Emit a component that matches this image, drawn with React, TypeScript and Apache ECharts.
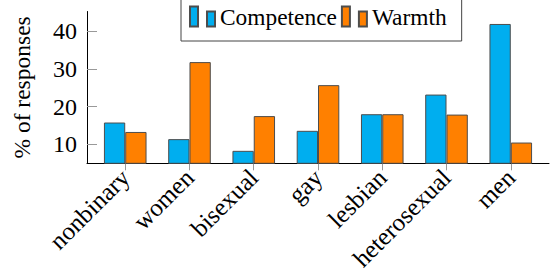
import React, { useEffect, useRef } from "react";
import * as echarts from "echarts";

const categories = ["nonbinary", "women", "bisexual", "gay", "lesbian", "heterosexual", "men"];
const competence = [15.8, 11.4, 8.3, 13.6, 18.0, 23.2, 41.9];
const warmth = [13.3, 31.8, 17.5, 25.7, 18.0, 17.9, 10.5];
const yTicks = [10, 20, 30, 40];
const seriesNames = ["Competence", "Warmth"];
const yName = "% of responses";

export default function App() {
  const ref = useRef<HTMLDivElement>(null);
  useEffect(() => {
    const chart = echarts.init(ref.current!, null, { renderer: "svg" });
    const font = "Liberation Serif";
    const icon = "path://M0,0H8V20H0Z M17,5H25V20H17Z";
    const xTicks = categories.map((_, i) => i);
    chart.setOption({
      animation: false,
      textStyle: { fontFamily: font, color: "#000" },
      legend: {
        left: 181,
        top: -10,
        padding: [15, 15, 13, 8],
        itemWidth: 25,
        itemHeight: 20,
        itemGap: 4,
        icon,
        borderColor: "#444",
        borderWidth: 1,
        backgroundColor: "#fff",
        textStyle: { fontFamily: font, fontSize: 23.4, color: "#000", padding: [4, 0, 0, 0] },
        data: seriesNames,
      },
      grid: { left: 87, right: 1, top: 11.5, bottom: 113.7 },
      xAxis: {
        type: "value",
        min: -0.595,
        max: 6.595,
        splitLine: { show: false },
        axisLine: { show: true, onZero: false, lineStyle: { color: "#000", width: 1 } },
        axisTick: { show: true, inside: false, length: 7, customValues: xTicks, lineStyle: { color: "#999" } },
        axisLabel: {
          customValues: xTicks,
          formatter: (v: number) => categories[Math.round(v)] ?? "",
          rotate: 45,
          margin: 10,
          fontSize: 25,
          color: "#000",
          fontFamily: font,
        },
      },
      yAxis: {
        type: "value",
        min: 5,
        max: 45.2,
        name: yName,
        nameLocation: "middle",
        nameGap: 53,
        nameTextStyle: { fontSize: 23.5, color: "#000", fontFamily: font },
        splitLine: { show: false },
        axisLine: { show: true, onZero: false, lineStyle: { color: "#000", width: 1 } },
        axisTick: { show: true, inside: true, length: 10, customValues: yTicks, lineStyle: { color: "#999" } },
        axisLabel: { customValues: yTicks, margin: 10, fontSize: 24, color: "#000", fontFamily: font },
      },
      series: [
        {
          name: seriesNames[0],
          type: "bar",
          data: competence.map((v, i) => [i, v]),
          barWidth: 21.3,
          barGap: "0%",
          itemStyle: { color: "#00AEEF", borderColor: "#4d4d4d", borderWidth: 1 },
        },
        {
          name: seriesNames[1],
          type: "bar",
          data: warmth.map((v, i) => [i, v]),
          barWidth: 21.3,
          barGap: "0%",
          itemStyle: { color: "#FF8000", borderColor: "#4d4d4d", borderWidth: 1 },
        },
      ],
    });
    return () => chart.dispose();
  }, []);
  return <div ref={ref} style={{ position: "absolute", left: 0, top: 0, width: 550, height: 277 }} />;
}
